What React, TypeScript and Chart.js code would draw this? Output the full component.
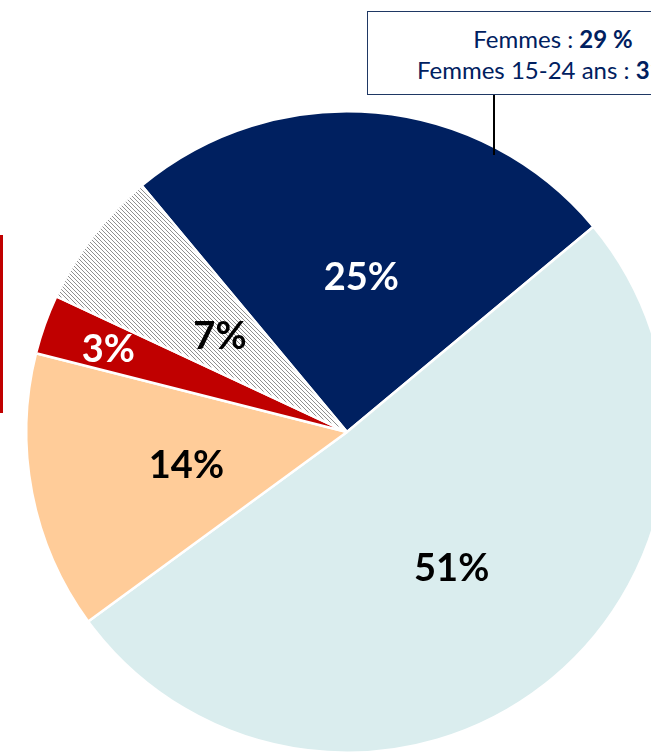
import React, { useEffect, useRef } from "react";
import { Chart, registerables } from "chart.js";

Chart.register(...registerables);

const categories = ["Segment A", "Segment B", "Segment C", "Segment D", "Segment E"];
const values = [25, 51, 14, 3, 7];
const calloutLines = [
  { label: "Femmes : ", value: "29 %" },
  { label: "Femmes 15-24 ans : ", value: "31 %" },
];

const NAVY = "#002060";
const LIGHT = "#DAEDEE";
const PEACH = "#FFCC99";
const RED = "#C00000";
const labelColors = ["#ffffff", "#000000", "#000000", "#ffffff", "#000000"];
const labelRadius = [0.49, 0.53, 0.51, 0.79, 0.5];

function makeHatch(): CanvasPattern | string {
  const c = document.createElement("canvas");
  c.width = 4;
  c.height = 4;
  const ctx = c.getContext("2d");
  if (!ctx) return "#cccccc";
  ctx.fillStyle = "#ffffff";
  ctx.fillRect(0, 0, 4, 4);
  ctx.fillStyle = "#8f8f8f";
  for (let i = 0; i < 4; i++) ctx.fillRect(i, i, 1, 1);
  const p = ctx.createPattern(c, "repeat");
  return p || "#cccccc";
}

const labelPlugin = {
  id: "sliceLabels",
  afterDatasetsDraw(chart: any) {
    const ctx = chart.ctx;
    const meta = chart.getDatasetMeta(0);
    const data = chart.data.datasets[0].data as number[];
    ctx.save();
    ctx.font = "bold 38px Lato, 'Open Sans', sans-serif";
    ctx.textAlign = "center";
    ctx.textBaseline = "alphabetic";
    meta.data.forEach((arc: any, i: number) => {
      const p = arc.getProps(["x", "y", "startAngle", "endAngle", "outerRadius"], true);
      const mid = (p.startAngle + p.endAngle) / 2;
      const r = p.outerRadius * labelRadius[i];
      const x = p.x + Math.cos(mid) * r;
      const y = p.y + Math.sin(mid) * r;
      ctx.fillStyle = labelColors[i];
      ctx.fillText(`${data[i]}%`, x, y + 15);
    });
    ctx.restore();
  },
};

export default function App() {
  const ref = useRef<HTMLCanvasElement | null>(null);
  useEffect(() => {
    if (!ref.current) return;
    const chart = new Chart(ref.current, {
      type: "pie",
      data: {
        labels: categories,
        datasets: [
          {
            data: values,
            backgroundColor: [NAVY, LIGHT, PEACH, RED, makeHatch() as any],
            borderColor: "#ffffff",
            borderWidth: 2.5,
          },
        ],
      },
      options: {
        animation: false,
        responsive: true,
        maintainAspectRatio: false,
        rotation: -39.8,
        layout: { padding: { left: 25, right: 25, top: 0, bottom: 0 } },
        plugins: {
          legend: { display: false },
          tooltip: { enabled: false },
        },
      },
      plugins: [labelPlugin],
    });
    return () => chart.destroy();
  }, []);

  return (
    <div
      style={{
        position: "fixed",
        left: 0,
        top: 0,
        width: 651,
        height: 753,
        overflow: "hidden",
        background: "#ffffff",
      }}
    >
      <div style={{ position: "absolute", left: 0, top: 0, width: 694, height: 864 }}>
        <canvas ref={ref} />
      </div>
      <div
        style={{
          position: "absolute",
          left: 0,
          top: 235,
          width: 3,
          height: 178,
          background: RED,
        }}
      />
      <div
        style={{
          position: "absolute",
          left: 493,
          top: 95,
          width: 1.6,
          height: 60,
          background: "#000000",
        }}
      />
      <div
        style={{
          position: "absolute",
          left: 367,
          top: 11,
          width: 372,
          height: 84,
          boxSizing: "border-box",
          border: "1.6px solid #1F3864",
          background: "#ffffff",
          display: "flex",
          flexDirection: "column",
          justifyContent: "center",
          alignItems: "center",
          paddingTop: 2,
          fontFamily: "Lato, 'Open Sans', sans-serif",
          fontSize: 24,
          lineHeight: "31px",
          color: "#002060",
          whiteSpace: "nowrap",
        }}
      >
        {calloutLines.map((l, i) => (
          <div key={i}>
            {l.label}
            <b>{l.value}</b>
          </div>
        ))}
      </div>
    </div>
  );
}
